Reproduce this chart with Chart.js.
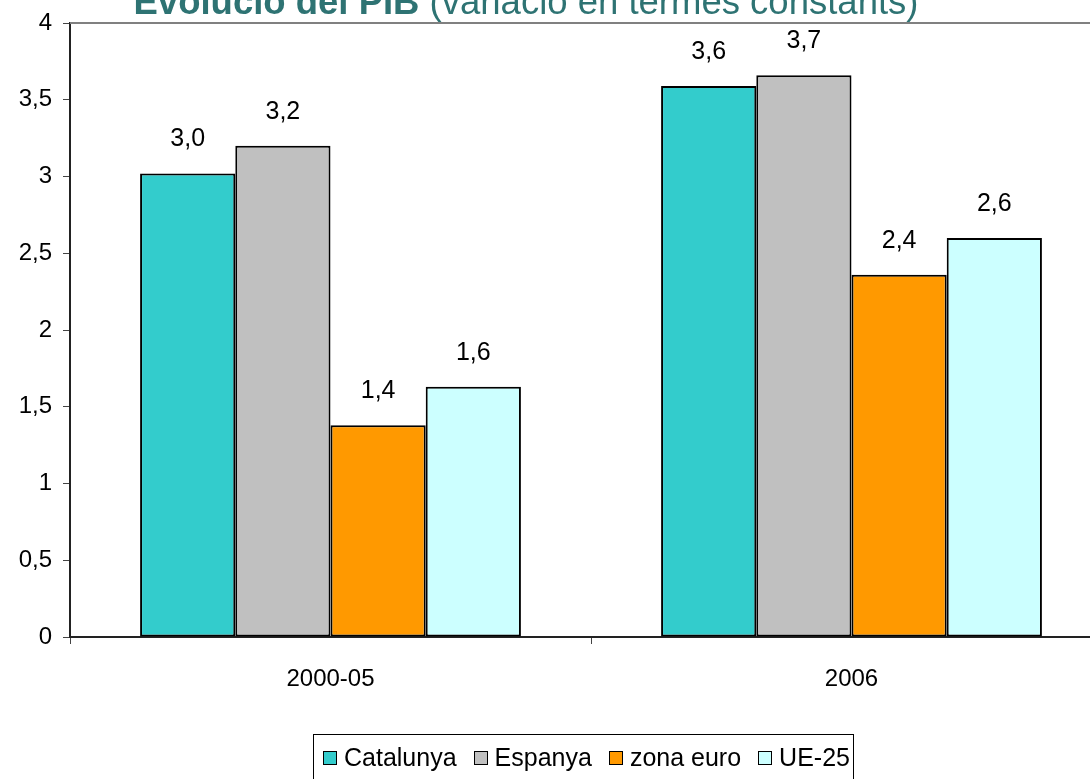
<!DOCTYPE html>
<html lang="ca">
<head>
<meta charset="utf-8">
<title>Evolució del PIB</title>
<script src="https://cdn.jsdelivr.net/npm/chart.js@4"></script>
<style>
    html, body {
        margin: 0;
        padding: 0;
        background: #fff;
        overflow: hidden;
    }
    #wrap {
        position: relative;
        width: 1090px;
        height: 779px;
        overflow: hidden;
    }
    #grafic {
        position: absolute;
        left: 0;
        top: 0;
    }
    #llegenda {
        position: absolute;
        left: 313px;
        top: 734px;
        width: 541px;
        height: 60px;
        border: 1px solid #000;
        box-sizing: border-box;
        display: flex;
        align-items: flex-start;
        padding: 8px 0 0 9px;
        font-family: "Liberation Sans", Arial, sans-serif;
        font-size: 25px;
        color: #000;
    }
    .item {
        display: flex;
        align-items: center;
        margin-right: 17px;
        white-space: nowrap;
    }
    .quadre {
        width: 14px;
        height: 14px;
        border: 1px solid #000;
        margin-right: 7px;
        box-sizing: border-box;
    }
</style>
</head>
<body>
<div id="wrap">
    <canvas id="grafic" width="1120" height="779"></canvas>
    <div id="llegenda"></div>
</div>
<script>
// Dades del gràfic
const categories = ['2000-05', '2006'];
const series = ['Catalunya', 'Espanya', 'zona euro', 'UE-25'];
const catalunya = [3.02, 3.59];
const espanya = [3.20, 3.66];
const zonaEuro = [1.38, 2.36];
const ue25 = [1.63, 2.60];
const yTicks = [0, 0.5, 1, 1.5, 2, 2.5, 3, 3.5, 4];

const titolNegreta = 'Evolució del PIB ';
const titolNormal = '(variació en termes constants)';

const colors = ['#33CCCC', '#C0C0C0', '#FF9900', '#CCFFFF'];
const valors = [catalunya, espanya, zonaEuro, ue25];

const FONT = '"Liberation Sans", Arial, sans-serif';
Chart.defaults.font.family = FONT;
Chart.defaults.color = '#000';

const fmt = v => v.toFixed(1).replace('.', ',');

// Títol en dues parts (negreta + normal)
const titolPlugin = {
    id: 'titol',
    afterDraw(chart) {
        const ctx = chart.ctx;
        ctx.save();
        ctx.fillStyle = '#2E7373';
        ctx.textBaseline = 'alphabetic';
        ctx.font = 'bold 36.5px ' + FONT;
        const w1 = ctx.measureText(titolNegreta).width;
        ctx.font = '36.5px ' + FONT;
        const w2 = ctx.measureText(titolNormal).width;
        const x0 = 526 - (w1 + w2) / 2;
        ctx.font = 'bold 36.5px ' + FONT;
        ctx.fillText(titolNegreta, x0, 14);
        ctx.font = '36.5px ' + FONT;
        ctx.fillText(titolNormal, x0 + w1, 14);
        ctx.restore();
    }
};

// Vora superior de l'àrea del gràfic
const voraPlugin = {
    id: 'vora',
    beforeDatasetsDraw(chart) {
        const a = chart.chartArea;
        const ctx = chart.ctx;
        ctx.save();
        ctx.strokeStyle = '#808080';
        ctx.lineWidth = 2;
        ctx.beginPath();
        ctx.moveTo(a.left, a.top);
        ctx.lineTo(a.right, a.top);
        ctx.stroke();
        ctx.restore();
    }
};

// Etiquetes de valor damunt de les barres
const etiquetesPlugin = {
    id: 'etiquetes',
    afterDatasetsDraw(chart) {
        const ctx = chart.ctx;
        ctx.save();
        ctx.font = '25px ' + FONT;
        ctx.fillStyle = '#000';
        ctx.textAlign = 'center';
        ctx.textBaseline = 'middle';
        chart.data.datasets.forEach((ds, i) => {
            chart.getDatasetMeta(i).data.forEach((bar, j) => {
                ctx.fillText(fmt(ds.data[j]), bar.x, bar.y - 34);
            });
        });
        ctx.restore();
    }
};

new Chart(document.getElementById('grafic'), {
    type: 'bar',
    data: {
        labels: categories,
        datasets: series.map((nom, i) => ({
            label: nom,
            data: valors[i],
            backgroundColor: colors[i],
            borderColor: '#000',
            borderWidth: 2,
            borderSkipped: false,
            categoryPercentage: 0.731,
            barPercentage: 1.0
        }))
    },
    options: {
        responsive: false,
        animation: false,
        devicePixelRatio: 1,
        layout: {
            padding: { top: 23, right: 8, left: 0, bottom: 0 }
        },
        plugins: {
            legend: { display: false },
            title: { display: false },
            tooltip: { enabled: false }
        },
        scales: {
            x: {
                grid: {
                    display: true,
                    drawOnChartArea: false,
                    drawTicks: true,
                    tickLength: 7,
                    color: '#444',
                    offset: true
                },
                border: { display: true, color: '#222', width: 2 },
                ticks: {
                    font: { size: 24 },
                    color: '#000',
                    padding: 21
                },
                afterFit(scale) { scale.height = 142; }
            },
            y: {
                min: 0,
                max: 4,
                afterBuildTicks(scale) {
                    scale.ticks = yTicks.map(v => ({ value: v }));
                },
                grid: {
                    display: true,
                    drawOnChartArea: false,
                    drawTicks: true,
                    tickLength: 7,
                    color: '#444'
                },
                border: { display: true, color: '#222', width: 2 },
                ticks: {
                    font: { size: 24, lineHeight: 1 },
                    color: '#000',
                    padding: 11,
                    callback: v => String(v).replace('.', ',')
                },
                afterFit(scale) { scale.width = 70; }
            }
        }
    },
    plugins: [voraPlugin, etiquetesPlugin, titolPlugin]
});

// Llegenda HTML
const llegenda = document.getElementById('llegenda');
series.forEach((nom, i) => {
    const item = document.createElement('div');
    item.className = 'item';
    const q = document.createElement('span');
    q.className = 'quadre';
    q.style.background = colors[i];
    const t = document.createElement('span');
    t.textContent = nom;
    item.appendChild(q);
    item.appendChild(t);
    llegenda.appendChild(item);
});
</script>
</body>
</html>
